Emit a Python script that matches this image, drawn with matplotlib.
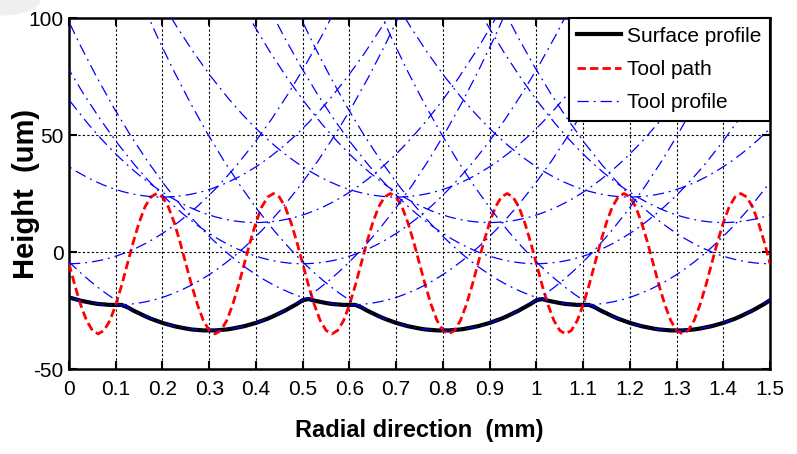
import numpy as np
import matplotlib.pyplot as plt
import matplotlib.patches as patches

plt.rcParams['font.family'] = ['Liberation Sans', 'DejaVu Sans']
plt.rcParams['axes.unicode_minus'] = False

# radial samples (mm), 0.0125 mm apart
radial = np.linspace(0, 1.5, 121)

# red dashed tool path (um)
tool_path = [
    -5.0, -14.3, -22.6, -29.3, -33.5, -35.0, -33.5, -29.3, -22.6, -14.3,
    -5.0, 4.3, 12.6, 19.3, 23.5, 25.0, 23.5, 19.3, 12.6, 4.3,
    -5.0, -14.3, -22.6, -29.3, -33.5, -35.0, -33.5, -29.3, -22.6, -14.3,
    -5.0, 4.3, 12.6, 19.3, 23.5, 25.0, 23.5, 19.3, 12.6, 4.3,
    -5.0, -14.3, -22.6, -29.3, -33.5, -35.0, -33.5, -29.3, -22.6, -14.3,
    -5.0, 4.3, 12.6, 19.3, 23.5, 25.0, 23.5, 19.3, 12.6, 4.3,
    -5.0, -14.3, -22.6, -29.3, -33.5, -35.0, -33.5, -29.3, -22.6, -14.3,
    -5.0, 4.3, 12.6, 19.3, 23.5, 25.0, 23.5, 19.3, 12.6, 4.3,
    -5.0, -14.3, -22.6, -29.3, -33.5, -35.0, -33.5, -29.3, -22.6, -14.3,
    -5.0, 4.3, 12.6, 19.3, 23.5, 25.0, 23.5, 19.3, 12.6, 4.3,
    -5.0, -14.3, -22.6, -29.3, -33.5, -35.0, -33.5, -29.3, -22.6, -14.3,
    -5.0, 4.3, 12.6, 19.3, 23.5, 25.0, 23.5, 19.3, 12.6, 4.3,
    -5.0,
]

# black surface profile (um)
surface = [
    -19.4, -20.1, -20.8, -21.3, -21.8, -22.2, -22.4, -22.6, -22.6, -22.6,
    -23.6, -25.0, -26.2, -27.4, -28.5, -29.4, -30.3, -31.0, -31.7, -32.2,
    -32.7, -33.1, -33.3, -33.5, -33.5, -33.5, -33.3, -33.1, -32.7, -32.2,
    -31.7, -31.0, -30.3, -29.4, -28.5, -27.4, -26.2, -25.0, -23.6, -22.2,
    -20.6, -20.1, -20.8, -21.3, -21.8, -22.2, -22.4, -22.6, -22.6, -22.6,
    -23.6, -25.0, -26.2, -27.4, -28.5, -29.4, -30.3, -31.0, -31.7, -32.2,
    -32.7, -33.1, -33.3, -33.5, -33.5, -33.5, -33.3, -33.1, -32.7, -32.2,
    -31.7, -31.0, -30.3, -29.4, -28.5, -27.4, -26.2, -25.0, -23.6, -22.2,
    -20.6, -20.1, -20.8, -21.3, -21.8, -22.2, -22.4, -22.6, -22.6, -22.6,
    -23.6, -25.0, -26.2, -27.4, -28.5, -29.4, -30.3, -31.0, -31.7, -32.2,
    -32.7, -33.1, -33.3, -33.5, -33.5, -33.5, -33.3, -33.1, -32.7, -32.2,
    -31.7, -31.0, -30.3, -29.4, -28.5, -27.4, -26.2, -25.0, -23.6, -22.2,
    -20.6,
]

# tool tip positions along the path (mm, um) and tool nose radius (mm)
tip_x = [0.0, 0.1, 0.2, 0.3, 0.4, 0.5, 0.6, 0.7, 0.8, 0.9, 1.0, 1.1, 1.2, 1.3, 1.4, 1.5]
tip_y = [-5.0, -22.6, 23.5, -33.5, 12.6, -5.0, -22.6, 23.5, -33.5, 12.6,
         -5.0, -22.6, 23.5, -33.5, 12.6, -5.0]
tool_radius = 1.55

x_ticks = [0, 0.1, 0.2, 0.3, 0.4, 0.5, 0.6, 0.7, 0.8, 0.9, 1, 1.1, 1.2, 1.3, 1.4, 1.5]
x_ticklabels = ['0', '0.1', '0.2', '0.3', '0.4', '0.5', '0.6', '0.7', '0.8', '0.9',
                '1', '1.1', '1.2', '1.3', '1.4', '1.5']
y_ticks = [-50, 0, 50, 100]

fig = plt.figure(figsize=(7.97, 4.54), dpi=100)
# faint slide background in the top left corner
fig.patches.append(patches.Ellipse((0, 1), 80 / 797, 30 / 454, color='#efefef',
                                   transform=fig.transFigure, zorder=0))
ax = fig.add_axes([0.0866, 0.1872, 0.8796, 0.7731])

dashdot = (0, (9, 4, 1.5, 4))
ax.plot(radial, surface, color='k', lw=3, label='Surface profile', zorder=3)
ax.plot(radial, tool_path, color='r', lw=2, dashes=(3, 1.5), label='Tool path', zorder=4)
for xc, yc in zip(tip_x, tip_y):
    # circle in mm drawn on a mm / um axes -> ellipse
    e = patches.Ellipse((xc, yc + tool_radius * 1000), 2 * tool_radius,
                        2 * tool_radius * 1000, fill=False, ec='b', lw=0.9,
                        ls=dashdot, zorder=5)
    ax.add_patch(e)
ax.plot([], [], color='b', lw=0.9, ls=dashdot, label='Tool profile')

ax.set_xlim(0, 1.5)
ax.set_ylim(-50, 100)
ax.set_xticks(x_ticks)
ax.set_xticklabels(x_ticklabels)
ax.set_yticks(y_ticks)
ax.grid(True, color='k', ls=(0, (2, 2)), lw=0.8)
ax.tick_params(direction='in', top=True, right=True, length=6, width=1.5,
               labelsize=15)
ax.tick_params(axis='x', pad=8)
ax.tick_params(axis='y', pad=4)
for s in ax.spines.values():
    s.set_linewidth(1.8)

ax.set_xlabel('Radial direction  (mm)', fontsize=17, fontweight='bold', labelpad=14)
ax.set_ylabel('Height  (um)', fontsize=21, fontweight='bold')
ax.yaxis.set_label_coords(-0.041, 0.5)

leg = ax.legend(loc='upper right', borderaxespad=0, fancybox=False, framealpha=1,
                edgecolor='k', fontsize=15, handlelength=2.1, labelspacing=0.68,
                borderpad=0.42, handletextpad=0.28)
leg.get_frame().set_linewidth(1.5)
leg.set_zorder(10)

fig.savefig('out.png', dpi=100)
